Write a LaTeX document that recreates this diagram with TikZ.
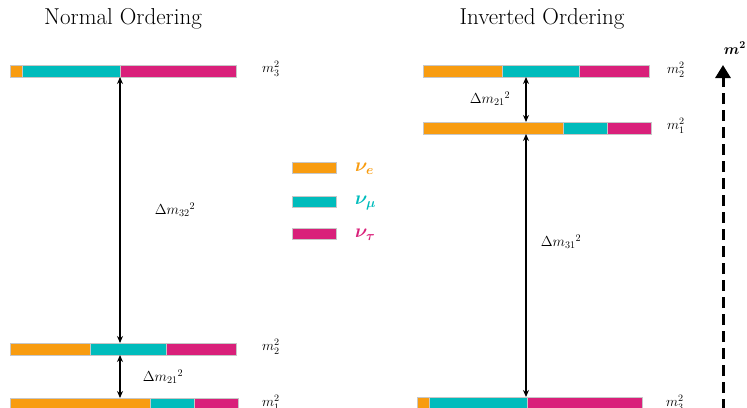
\documentclass[tikz,border=0pt]{standalone}
\usepackage{amsmath,amssymb,bm}
\usepackage{fix-cm}
\usetikzlibrary{arrows.meta,calc}
\definecolor{cOr}{HTML}{F89C10}
\definecolor{cTe}{HTML}{00BCBC}
\definecolor{cMa}{HTML}{D9207A}
\tikzset{
  seg/.style={draw=black!22, line width=0.5pt},
  lvl/.style={inner sep=0pt, anchor=west, font=\fontsize{14}{16}\selectfont},
  gap/.style={line width=1.5pt, {Stealth[length=7pt,width=6pt]}-{Stealth[length=7pt,width=6pt]}},
  gaplbl/.style={inner sep=0pt, font=\fontsize{14.5}{17}\selectfont},
  ttl/.style={inner sep=0pt, font=\fontsize{23}{27}\selectfont},
  nulbl/.style={inner sep=0pt, anchor=west, font=\fontsize{19}{22}\selectfont},
  barpt/.style={inner sep=0pt, minimum size=0pt}
}
% #1 name, #2 left x, #3 top y, #4 end of orange, #5 end of teal, #6 right x
\newcommand\levelbar[6]{%
  \fill[cOr] (#2,#3) rectangle (#4,#3+12);
  \fill[cTe] (#4,#3) rectangle (#5,#3+12);
  \fill[cMa] (#5,#3) rectangle (#6,#3+12);
  \draw[seg] (#2,#3) rectangle (#4,#3+12);
  \draw[seg] (#4,#3) rectangle (#5,#3+12);
  \draw[seg] (#5,#3) rectangle (#6,#3+12);
  \path (#2,#3) coordinate (#1-nw) (#6,#3+12) coordinate (#1-se);
  \node[barpt] (#1) at ($(#1-nw)!0.5!(#1-se)$) {};
}
\begin{document}
\begin{tikzpicture}[x=1pt, y=-1pt]
\useasboundingbox (0,0) rectangle (747,407);
\clip (0,0) rectangle (747,407);

% titles
\node[ttl] (tN) at (123,19) {Normal Ordering};
\node[ttl] (tI) at (542,19) {Inverted Ordering};

% normal ordering levels
\levelbar{N3}{10}{65}{22}{120}{236}
\levelbar{N2}{10}{343}{90}{166}{236}
\levelbar{N1}{10}{398}{150}{194}{238}
\node[lvl] (lN3) at (262,69) {$m_3^2$};
\node[lvl] (lN2) at (262,347) {$m_2^2$};
\node[lvl] (lN1) at (262,403) {$m_1^2$};

\coordinate (axN) at (120,0);
\draw[gap] (N3-se -| axN) -- (N2-nw -| axN);
\draw[gap] (N2-se -| axN) -- (N1-nw -| axN);
\node[gaplbl] (dN32) at (175,210) {$\Delta m_{32}{}^{2}$};
\node[gaplbl] (dN21) at (163,377) {$\Delta m_{21}{}^{2}$};

% inverted ordering levels
\levelbar{I2}{423}{65}{502}{579}{649}
\levelbar{I1}{423}{122}{563}{607}{651}
\levelbar{I3}{417}{397}{429}{527}{642}
\node[lvl] (lI2) at (667,70) {$m_2^2$};
\node[lvl] (lI1) at (667,126) {$m_1^2$};
\node[lvl] (lI3) at (666,403) {$m_3^2$};

\coordinate (axI) at (526,0);
\draw[gap] (I2-se -| axI) -- (I1-nw -| axI);
\draw[gap] (I1-se -| axI) -- (I3-nw -| axI);
\node[gaplbl] (dI21) at (490,99) {$\Delta m_{21}{}^{2}$};
\node[gaplbl] (dI31) at (561,242) {$\Delta m_{31}{}^{2}$};

% flavour legend
\fill[cOr, draw=black!22, line width=0.5pt] (292,162) rectangle (336,173);
\fill[cTe, draw=black!22, line width=0.5pt] (292,196) rectangle (336,207);
\fill[cMa, draw=black!22, line width=0.5pt] (292,228) rectangle (336,239);
\node[nulbl, text=cOr] (ne) at (355,169) {$\bm{\nu_e}$};
\node[nulbl, text=cTe] (nm) at (355,203) {$\bm{\nu_\mu}$};
\node[nulbl, text=cMa] (nt) at (355,235) {$\bm{\nu_\tau}$};

% mass-squared axis
\coordinate (axB) at (723,410);
\coordinate (axT) at (723,65);
\draw[line width=3pt, dash pattern=on 11pt off 6pt, -{Triangle[length=13pt,width=15pt]}] (axB) -- (axT);
\node[inner sep=0pt, font=\fontsize{15}{17}\selectfont] (mlbl) at (735,48) {$\bm{m^2}$};
\end{tikzpicture}
\end{document}
